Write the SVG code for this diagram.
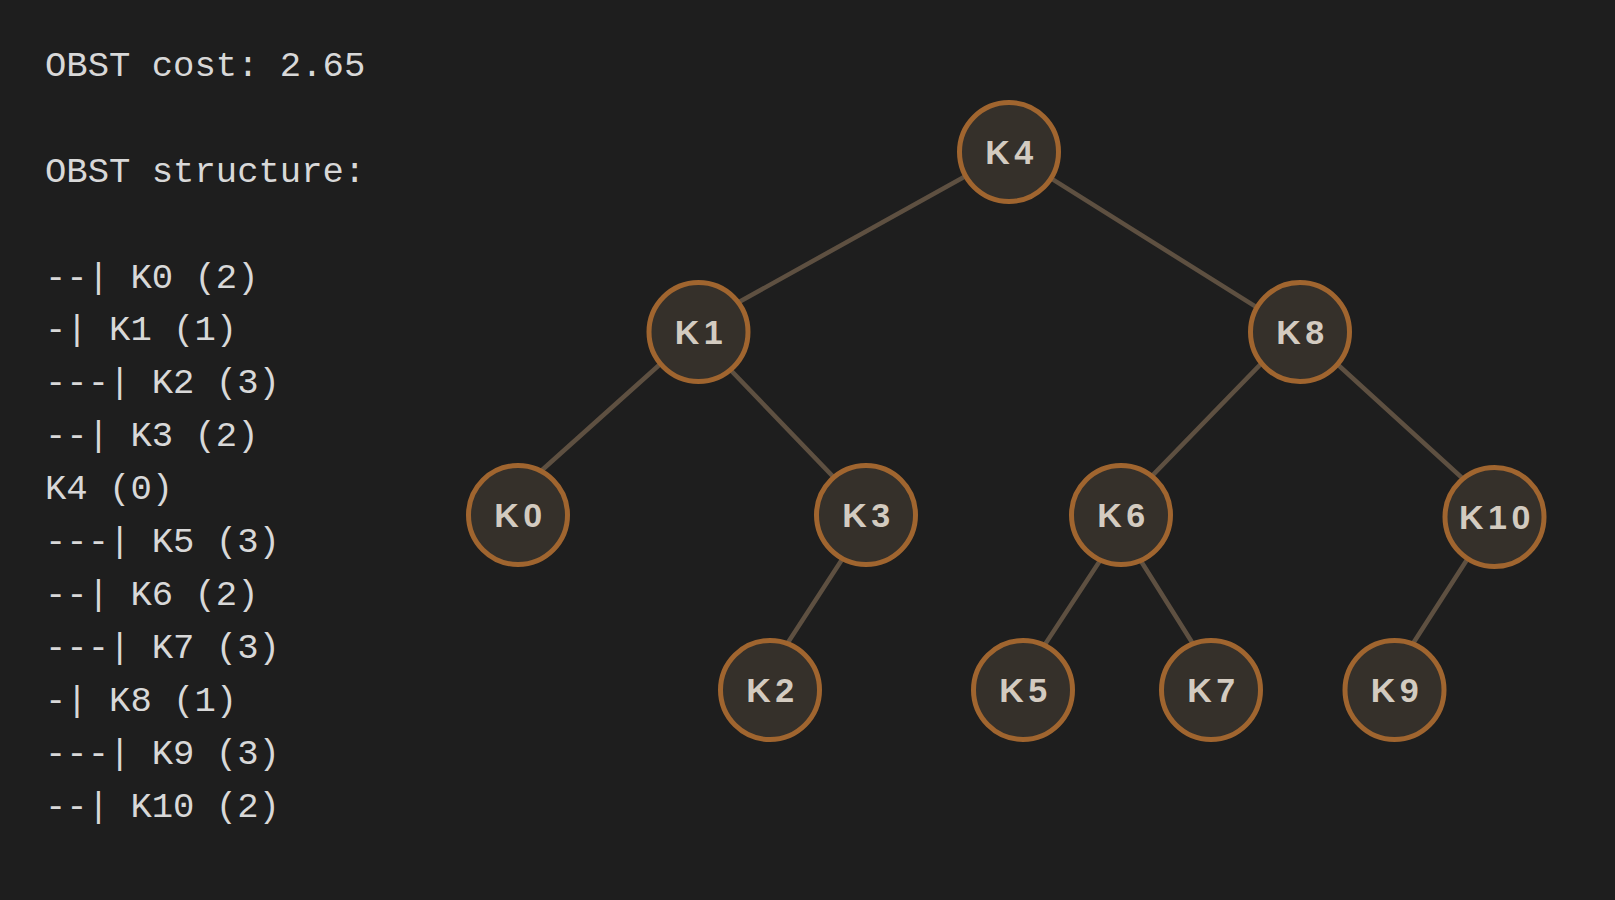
<svg xmlns="http://www.w3.org/2000/svg" width="1615" height="900" viewBox="0 0 1615 900">
  <defs>
    <style>
      .mono { font-family: "Liberation Mono", "DejaVu Sans Mono", monospace; font-size: 35.6px; fill: #d8d8d8; }
      .edge { stroke: #5e5041; stroke-width: 4.5; stroke-linecap: round; }
      .node circle { fill: #35302a; stroke: #a0652f; stroke-width: 5; }
      .node text { font-family: "Liberation Sans", Arial, sans-serif; font-weight: bold; font-size: 34px; fill: #d3cbc0; text-anchor: middle; letter-spacing: 4.5px; }
    </style>
  </defs>

  <rect x="0" y="0" width="1615" height="900" fill="#1e1e1e"/>

  <!-- Text output panel -->
  <g id="output-text" class="mono" xml:space="preserve">
    <text x="45" y="75.7">OBST cost: 2.65</text>
    <text x="45" y="181.7">OBST structure:</text>
    <text x="45" y="287.5">--| K0 (2)</text>
    <text x="45" y="340.4">-| K1 (1)</text>
    <text x="45" y="393.3">---| K2 (3)</text>
    <text x="45" y="446.2">--| K3 (2)</text>
    <text x="45" y="499.1">K4 (0)</text>
    <text x="45" y="552">---| K5 (3)</text>
    <text x="45" y="604.9">--| K6 (2)</text>
    <text x="45" y="657.8">---| K7 (3)</text>
    <text x="45" y="710.7">-| K8 (1)</text>
    <text x="45" y="763.6">---| K9 (3)</text>
    <text x="45" y="816.5">--| K10 (2)</text>
  </g>

  <!-- Tree edges (ends are hidden under the node circles) -->
  <g id="connectors" class="edge">
    <line x1="1009" y1="152" x2="685" y2="332"/>
    <line x1="1009" y1="152" x2="1296" y2="332"/>
    <line x1="696" y1="332" x2="492" y2="515"/>
    <line x1="694" y1="332" x2="870" y2="515"/>
    <line x1="871" y1="515" x2="757" y2="690"/>
    <line x1="1292" y1="332" x2="1114" y2="515"/>
    <line x1="1302" y1="332" x2="1505" y2="517"/>
    <line x1="1130" y1="515" x2="1015" y2="690"/>
    <line x1="1112" y1="515" x2="1222" y2="690"/>
    <line x1="1494.5" y1="517" x2="1383" y2="690"/>
  </g>

  <!-- Tree nodes -->
  <g id="K4" class="node"><circle cx="1009" cy="152" r="49.5"/><text x="1011.5" y="164">K4</text></g>
  <g id="K1" class="node"><circle cx="698.5" cy="332" r="49.5"/><text x="701" y="344">K1</text></g>
  <g id="K8" class="node"><circle cx="1300" cy="332" r="49.5"/><text x="1302.5" y="344">K8</text></g>
  <g id="K0" class="node"><circle cx="518" cy="515" r="49.5"/><text x="520.5" y="527">K0</text></g>
  <g id="K3" class="node"><circle cx="866" cy="515" r="49.5"/><text x="868.5" y="527">K3</text></g>
  <g id="K6" class="node"><circle cx="1121" cy="515" r="49.5"/><text x="1123.5" y="527">K6</text></g>
  <g id="K10" class="node"><circle cx="1494.5" cy="517" r="49.5"/><text x="1497" y="529">K10</text></g>
  <g id="K2" class="node"><circle cx="770" cy="690" r="49.5"/><text x="772.5" y="702">K2</text></g>
  <g id="K5" class="node"><circle cx="1023" cy="690" r="49.5"/><text x="1025.5" y="702">K5</text></g>
  <g id="K7" class="node"><circle cx="1211" cy="690" r="49.5"/><text x="1213.5" y="702">K7</text></g>
  <g id="K9" class="node"><circle cx="1394.5" cy="690" r="49.5"/><text x="1397" y="702">K9</text></g>
</svg>
